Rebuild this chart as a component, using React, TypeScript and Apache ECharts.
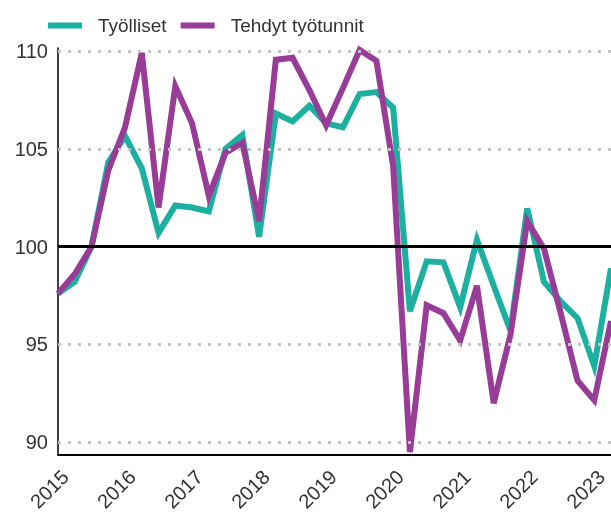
import React, { useEffect, useRef } from "react";
import * as echarts from "echarts";

const quarters = [
  "2015Q1", "2015Q2", "2015Q3", "2015Q4",
  "2016Q1", "2016Q2", "2016Q3", "2016Q4",
  "2017Q1", "2017Q2", "2017Q3", "2017Q4",
  "2018Q1", "2018Q2", "2018Q3", "2018Q4",
  "2019Q1", "2019Q2", "2019Q3", "2019Q4",
  "2020Q1", "2020Q2", "2020Q3", "2020Q4",
  "2021Q1", "2021Q2", "2021Q3", "2021Q4",
  "2022Q1", "2022Q2", "2022Q3", "2022Q4",
  "2023Q1", "2023Q2",
];

const tyolliset = [
  97.6, 98.2, 100.0, 104.3,
  105.65, 104.0, 100.7, 102.1,
  102.0, 101.8, 105.0, 105.7,
  100.5, 106.8, 106.4, 107.2,
  106.3, 106.1, 107.8, 107.9,
  107.1, 96.7, 99.25, 99.2,
  96.9, 100.35, 98.0, 95.7,
  101.95, 98.2, 97.2, 96.35,
  93.9, 98.9,
];

const tyotunnit = [
  97.6, 98.6, 100.0, 103.9,
  106.1, 109.9, 102.0, 108.2,
  106.3, 102.6, 104.8, 105.3,
  101.3, 109.55, 109.65, 108.0,
  106.2, 108.1, 110.05, 109.5,
  104.1, 89.5, 97.0, 96.6,
  95.2, 98.0, 92.0, 95.5,
  101.3, 99.9, 96.6, 93.15,
  92.15, 96.2,
];

const gridValues = [90, 95, 105, 110];
const baseValue = 100;
const seriesNames = ["Työlliset", "Tehdyt työtunnit"];

const FONT = "'Liberation Sans', Arial, Helvetica, sans-serif";

export default function App() {
  const ref = useRef<HTMLDivElement>(null);

  useEffect(() => {
    if (!ref.current) return;
    const chart = echarts.init(ref.current, undefined, { renderer: "svg" });
    chart.setOption({
      animation: false,
      textStyle: { fontFamily: FONT },
      legend: {
        data: seriesNames,
        left: 48,
        top: 16,
        padding: 0,
        icon: "rect",
        itemWidth: 34,
        itemHeight: 6,
        itemGap: 14,
        textStyle: {
          fontSize: 19,
          color: "#333",
          fontFamily: FONT,
          padding: [0, 0, 0, 11],
        },
      },
      grid: { left: 58, right: 0, top: 48, bottom: 57, containLabel: false },
      xAxis: {
        type: "category",
        boundaryGap: false,
        data: quarters,
        axisLine: { show: true, lineStyle: { color: "#000", width: 2 } },
        axisTick: { show: false },
        splitLine: { show: false },
        axisLabel: {
          interval: (i: number) => i % 4 === 0,
          formatter: (v: string) => v.slice(0, 4),
          rotate: 45,
          fontSize: 20,
          color: "#333",
          fontFamily: FONT,
          margin: 12,
          verticalAlign: "top",
        },
      },
      yAxis: {
        type: "value",
        min: 89.39,
        max: 110.15,
        splitNumber: 4,
        axisLine: { show: true, lineStyle: { color: "#000", width: 1.5 } },
        axisTick: { show: false },
        splitLine: { show: false },
        axisLabel: {
          fontSize: 20,
          color: "#333",
          fontFamily: FONT,
          margin: 10,
          showMinLabel: true,
          showMaxLabel: true,
          formatter: (v: number) =>
            Math.abs(v - Math.round(v / 5) * 5) < 1e-6 ? String(Math.round(v)) : "",
        },
      },
      series: [
        {
          type: "line",
          data: [],
          z: 1,
          silent: true,
          markLine: {
            silent: true,
            symbol: "none",
            label: { show: false },
            data: [
              ...gridValues.map((v) => ({
                yAxis: v,
                lineStyle: { color: "#c4c4c4", width: 3, type: [3, 7] },
              })),
              { yAxis: baseValue, lineStyle: { color: "#000", width: 3, type: "solid" } },
            ],
          },
        },
        {
          name: seriesNames[0],
          type: "line",
          data: tyolliset,
          z: 2,
          symbol: "none",
          lineStyle: { color: "#1cb0a0", width: 6, join: "miter" },
          itemStyle: { color: "#1cb0a0" },
        },
        {
          name: seriesNames[1],
          type: "line",
          data: tyotunnit,
          z: 3,
          symbol: "none",
          lineStyle: { color: "#983c98", width: 6, join: "miter" },
          itemStyle: { color: "#983c98" },
        },
      ],
    });
    return () => chart.dispose();
  }, []);

  return (
    <div
      ref={ref}
      style={{ position: "fixed", left: 0, top: 0, width: 611, height: 514 }}
    />
  );
}
